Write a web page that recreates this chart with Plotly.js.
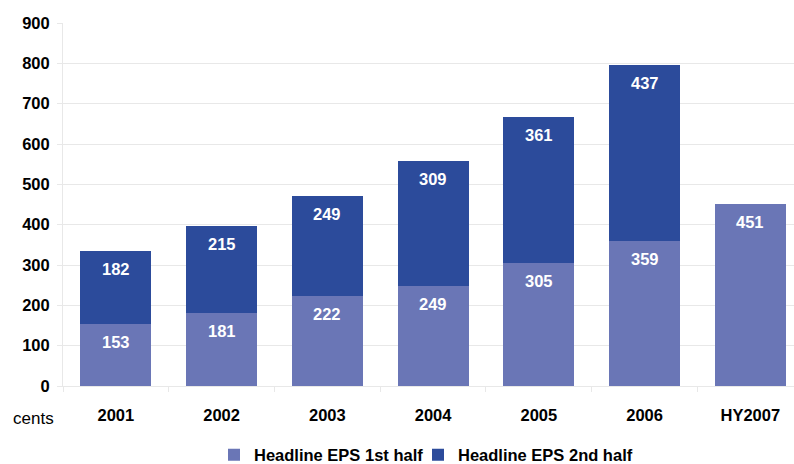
<!DOCTYPE html>
<html>
<head>
<meta charset="utf-8">
<script src="https://cdn.plot.ly/plotly-3.0.1.min.js"></script>
<style>
  html, body { margin: 0; padding: 0; background: #ffffff; }
  #chart { width: 794px; height: 464px; }
</style>
</head>
<body>
<div id="chart"></div>
<script>
// Headline earnings per share, cents, split by half-year
const years = ["2001", "2002", "2003", "2004", "2005", "2006", "HY2007"];
const firstHalf = [153, 181, 222, 249, 305, 359, 451];
const secondHalf = [182, 215, 249, 309, 361, 437, null];
const seriesNames = ["Headline EPS 1st half", "Headline EPS 2nd half"];
const yTicks = [0, 100, 200, 300, 400, 500, 600, 700, 800, 900];

const FONT = "Liberation Sans, Arial, Helvetica, sans-serif";
const LIGHT = "#6a76b6";
const DARK = "#2c4b9b";
const GRID = "#e8e8e8";

// plot area in pixels (used to place the unit caption in paper units)
const PLOT_L = 63, PLOT_W = 731, PLOT_B = 386, PLOT_H = 363;

const traces = [
  {
    type: "bar", x: years, y: firstHalf, name: seriesNames[0],
    marker: { color: LIGHT }, legend: "legend", hoverinfo: "x+y"
  },
  {
    type: "bar", x: years, y: secondHalf, name: seriesNames[1],
    marker: { color: DARK }, legend: "legend2", hoverinfo: "x+y"
  }
];

// Value labels sit just inside the top of each segment.
// Category positions are given by index so year-like names are not read as numbers.
const labelFont = { family: FONT, size: 16.5, color: "#ffffff", weight: "bold" };
const annotations = [];
years.forEach((yr, i) => {
  annotations.push({
    x: i, y: firstHalf[i], xref: "x", yref: "y", yshift: -18,
    text: String(firstHalf[i]), showarrow: false, font: labelFont
  });
  if (secondHalf[i] != null) {
    annotations.push({
      x: i, y: firstHalf[i] + secondHalf[i], xref: "x", yref: "y", yshift: -18,
      text: String(secondHalf[i]), showarrow: false, font: labelFont
    });
  }
});
// unit caption under the value axis
annotations.push({
  x: (11 - PLOT_L) / PLOT_W, y: (PLOT_B - 418) / PLOT_H, xref: "paper", yref: "paper",
  text: "cents", showarrow: false, xanchor: "left", yanchor: "middle",
  font: { family: FONT, size: 17, color: "#000000" }
});

const legendFont = { family: FONT, size: 16.5, color: "#000000", weight: "bold" };

const layout = {
  width: 794, height: 464,
  margin: { l: PLOT_L, r: 0, t: 23, b: 78, autoexpand: false },
  paper_bgcolor: "#ffffff", plot_bgcolor: "#ffffff",
  barmode: "stack", bargap: 0.329,
  font: { family: FONT, size: 16.5, color: "#000000" },
  xaxis: {
    type: "category", range: [-0.5, 6.413],
    showgrid: false, showline: true, linecolor: GRID, linewidth: 1,
    ticks: "outside", tickson: "boundaries", ticklen: 5, tickcolor: GRID,
    ticklabelstandoff: 14,
    tickfont: { family: FONT, size: 16.5, color: "#000000", weight: "bold" },
    fixedrange: true
  },
  yaxis: {
    range: [0, 900], tickvals: yTicks, ticktext: yTicks.map(String),
    showgrid: true, gridcolor: GRID, gridwidth: 1, zeroline: false,
    showline: true, linecolor: GRID, linewidth: 1,
    ticks: "outside", ticklen: 5, tickcolor: GRID,
    ticklabelstandoff: 4,
    tickfont: { family: FONT, size: 16.5, color: "#000000", weight: "bold" },
    fixedrange: true
  },
  showlegend: true,
  legend: {
    orientation: "h", xref: "container", yref: "container",
    x: 214 / 794, xanchor: "left", y: (464 - 455) / 464, yanchor: "middle",
    font: legendFont, bgcolor: "rgba(0,0,0,0)", traceorder: "normal"
  },
  legend2: {
    orientation: "h", xref: "container", yref: "container",
    x: 418 / 794, xanchor: "left", y: (464 - 455) / 464, yanchor: "middle",
    font: legendFont, bgcolor: "rgba(0,0,0,0)"
  },
  annotations: annotations
};

Plotly.newPlot("chart", traces, layout, { displayModeBar: false, staticPlot: true });
</script>
</body>
</html>
